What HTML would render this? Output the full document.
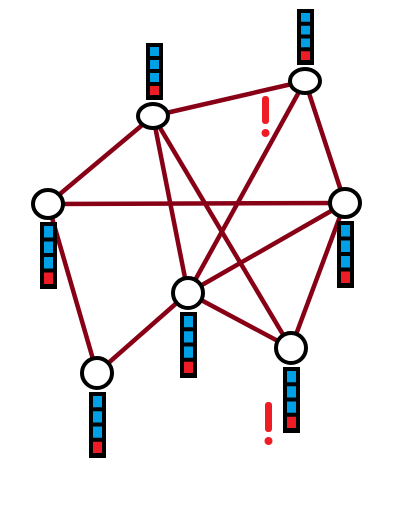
<!DOCTYPE html>
<html><head><meta charset="utf-8"><style>html,body{margin:0;padding:0;background:#fff;width:407px;height:505px;overflow:hidden}</style></head>
<body>
<svg id="g" width="407" height="505" xmlns="http://www.w3.org/2000/svg"></svg>
<script>
const nodeIds=["A","B","C","D","E","F","G"];
const nodeX=[153,305,48,345,188,291,97];
const nodeY=[116,81,204,203,293,348,373];
const nodeRx=[15,15,15,15,15,15,15];
const nodeRy=[12,12,14,14,15,15,15];
const edges=[["A","B"],["A","C"],["A","E"],["A","F"],["B","E"],["B","D"],["C","D"],["C","G"],["D","E"],["D","F"],["E","F"],["E","G"]];
const barX=[146,297,40,337,180,283,89];
const barTop=[43,9,222,221,312,367,392];
const barH=[57,56,67,67,66,66,66];
const alerts=[[265,96,137],[268,402,445]];
const svg=document.getElementById('g');
const NS='http://www.w3.org/2000/svg';
function mk(t,a){const e=document.createElementNS(NS,t);for(const k in a)e.setAttribute(k,a[k]);svg.appendChild(e);return e;}
edges.forEach(([a,b])=>{
  const i=nodeIds.indexOf(a),j=nodeIds.indexOf(b);
  const l=mk('line',{x1:nodeX[i],y1:nodeY[i],x2:nodeX[j],y2:nodeY[j],stroke:'#870016','stroke-width':4.5});
  
  
});
nodeIds.forEach((id,i)=>{
  const c=mk('ellipse',{cx:nodeX[i],cy:nodeY[i],rx:nodeRx[i],ry:nodeRy[i],fill:'#fff',stroke:'#000','stroke-width':4});
  
  
  const b=mk('rect',{x:barX[i],y:barTop[i],width:17,height:barH[i],fill:'#000'});
  
  
  const step=(barH[i]-5)/4;
  for(let k=0;k<4;k++){
    const s=mk('rect',{x:barX[i]+4,y:barTop[i]+4+k*step,width:9,height:step-4,fill:k<3?'#00a0e6':'#ee1c24'});
    
    
  }
});
alerts.forEach(([x,y1,y2],n)=>{
  const l=mk('rect',{x:x-3,y:y1,width:7,height:(y2-y1)-13,rx:3,fill:'#ee1c24'});
  
  
  const d=mk('circle',{cx:x+0.5,cy:y2-4,r:4,fill:'#ee1c24'});
  
  
});
</script>
</body></html>
